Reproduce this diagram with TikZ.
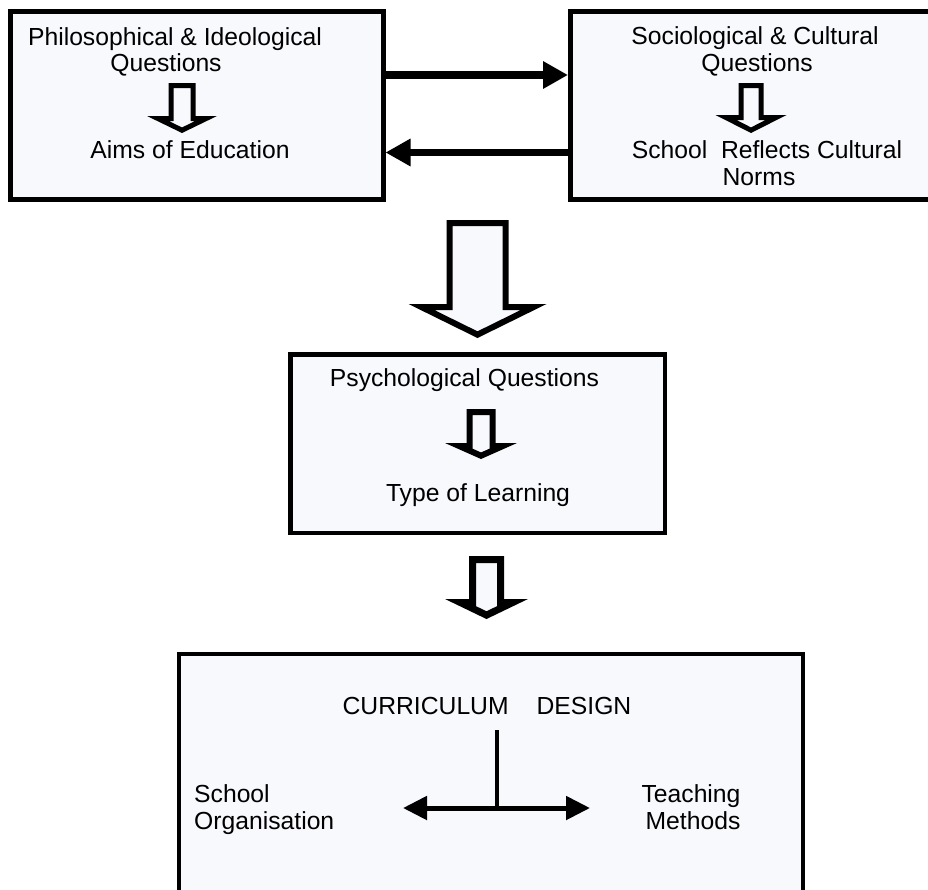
\documentclass[tikz,border=0pt]{standalone}
\usepackage{fontspec}
\setmainfont{Liberation Sans}
\usetikzlibrary{arrows.meta}
\definecolor{boxfill}{RGB}{248,249,253}
% hollow block arrow pointing down: cx, ytop, shaft half width, head half width, y of head top, y of tip, doubled line width
\newcommand{\blockdown}[7]{%
  \begin{scope}
    \clip (#1-#3,#2) -- (#1+#3,#2) -- (#1+#3,#5) -- (#1+#4,#5) -- (#1,#6) -- (#1-#4,#5) -- (#1-#3,#5) -- cycle;
    \filldraw[fill=boxfill, draw=black, line width=#7, line join=miter]
      (#1-#3,#2) -- (#1+#3,#2) -- (#1+#3,#5) -- (#1+#4,#5) -- (#1,#6) -- (#1-#4,#5) -- (#1-#3,#5) -- cycle;
  \end{scope}}
\begin{document}
\begin{tikzpicture}[x=1pt,y=-1pt,
  every node/.style={inner sep=0pt, font=\fontsize{24.7}{28}\selectfont},
  box/.style={draw=black, fill=boxfill, inner sep=0pt},
  conn/.style={line width=7.5pt, -{Triangle[length=25pt,width=26pt]}},
  txt/.style={anchor=base}]
\useasboundingbox (0,0) rectangle (928,889);
\fill[white] (0,0) rectangle (928,889);

% boxes
\node[box, line width=5pt, minimum width=373pt, minimum height=188pt] (phil) at (196.5,105.5) {};
\node[box, line width=5pt, minimum width=379.5pt, minimum height=188pt] (soc) at (760.25,105.5) {};
\node[box, line width=4.5pt, minimum width=374.5pt, minimum height=178.5pt] (psy) at (477.5,443.5) {};
\node[box, line width=4pt, minimum width=624pt, minimum height=251pt] (cur) at (491,779.5) {};

% texts
\node[txt] (phiA) at (175,45) {Philosophical \& Ideological};
\node[txt] (phiB) at (166,71) {Questions};
\node[txt] (aims) at (190,158) {Aims of Education};
\node[txt] (socA) at (755,44) {Sociological \& Cultural};
\node[txt] (socB) at (757,71) {Questions};
\node[txt] (socC) at (767,158) {School\ \ Reflects Cultural};
\node[txt] (socD) at (759,185) {Norms};
\node[txt] (psyA) at (464.5,386) {Psychological Questions};
\node[txt] (psyB) at (478,501.5) {Type of Learning};
\node[txt] (cd) at (487,714) {CURRICULUM\hspace{28pt}DESIGN};
\node[anchor=base west] (orgA) at (194,802) {School};
\node[anchor=base west] (orgB) at (194,829.5) {Organisation};
\node[txt] (tmA) at (691,802) {Teaching};
\node[txt] (tmB) at (693,829.5) {Methods};

% hollow block arrows
\blockdown{182}{83}{13.5}{35}{116}{133}{10pt}
\blockdown{751}{83}{12.5}{35.5}{115}{133}{10pt}
\blockdown{477.5}{220}{31}{69}{304}{338}{12pt}
\blockdown{481}{409}{14.5}{36}{443}{459}{12pt}
\blockdown{486.5}{556}{17.5}{41.5}{599}{619}{14pt}

% connectors between top boxes
\draw[conn] ([yshift=30.5pt]phil.east) -- ([yshift=30.5pt]soc.west);
\draw[conn] ([yshift=-47pt]soc.west) -- ([yshift=-47pt]phil.east);

% T connector in curriculum box
\coordinate (stem) at (497,730);
\coordinate (jn) at (497,808);
\coordinate (lt) at (403,808);
\coordinate (rt) at (590,808);
\draw[line width=4.5pt] (stem) -- (jn);
\draw[line width=5pt, {Triangle[length=24pt,width=23pt]}-{Triangle[length=24pt,width=23pt]}] (lt) -- (rt);
\end{tikzpicture}
\end{document}
